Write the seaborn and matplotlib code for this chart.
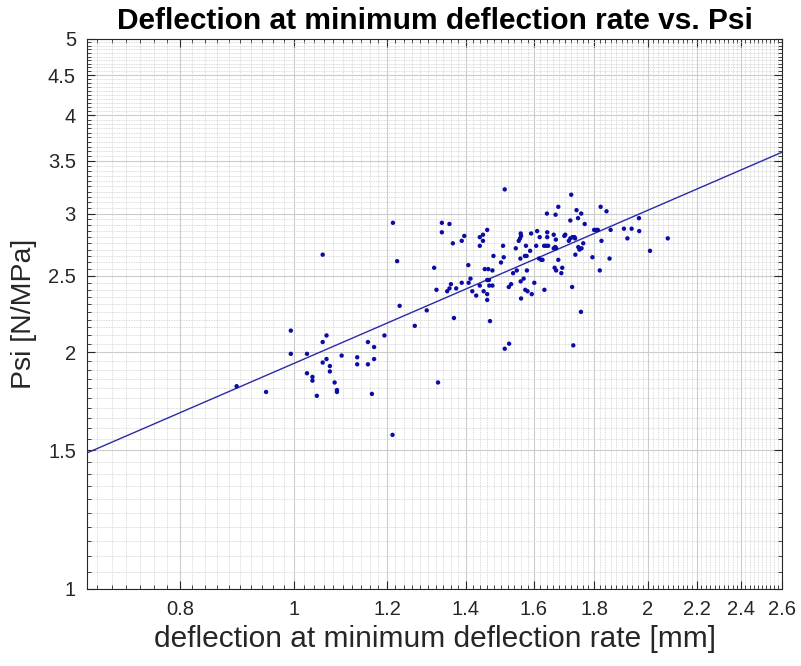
import numpy as np
import pandas as pd
import matplotlib
matplotlib.use("Agg")
import matplotlib.pyplot as plt
from matplotlib.ticker import FixedLocator, FixedFormatter, NullFormatter
import seaborn as sns

# ---- data ----
defl = [1.214, 1.336, 1.356, 1.336, 1.46, 1.448, 1.439, 1.448, 1.396, 1.389,
        1.365, 1.439, 1.058, 1.478, 1.224, 1.316, 1.407, 1.453, 1.463, 1.475,
        1.413, 1.46, 1.465, 1.36, 1.389, 1.408, 1.374, 1.439, 1.466, 1.475,
        1.322, 1.35, 1.356, 1.418, 1.429, 1.45, 1.46, 1.46, 1.23, 1.297,
        1.368, 1.468, 1.267, 0.994, 1.066, 1.194, 1.058, 1.156, 1.17, 0.994,
        1.026, 1.098, 1.132, 1.066, 1.17, 1.058, 1.073, 1.132, 1.156, 1.073,
        1.026, 1.037, 1.037, 1.083, 1.326, 1.088, 1.088, 0.894, 0.947, 1.046,
        1.165, 1.213,
        1.511, 1.721, 1.823, 1.844, 1.678, 1.641, 1.669, 1.739, 1.755, 1.744,
        1.718, 1.767, 1.965, 1.908, 1.937, 1.966, 1.859, 1.80, 1.807, 1.813,
        1.921, 1.826, 2.079, 2.008, 1.559, 1.56, 1.557, 1.553, 1.591, 1.61,
        1.618, 1.642, 1.642, 1.663, 1.67, 1.701, 1.698, 1.713, 1.718, 1.725,
        1.732, 1.734, 1.745, 1.749, 1.756, 1.762, 1.735, 1.794, 1.855, 1.82,
        1.506, 1.544, 1.575, 1.588, 1.607, 1.632, 1.638, 1.645, 1.663, 1.668,
        1.671, 1.577, 1.572, 1.558, 1.616, 1.623, 1.627, 1.678, 1.508, 1.50,
        1.547, 1.536, 1.578, 1.666, 1.671, 1.691, 1.688, 1.568, 1.53, 1.523,
        1.559, 1.601, 1.573, 1.58, 1.593, 1.56, 1.633, 1.724, 1.754, 1.511,
        1.524, 1.728]
psi = [2.92, 2.92, 2.91, 2.84, 2.86, 2.82, 2.80, 2.77, 2.81, 2.77,
       2.75, 2.73, 2.66, 2.65, 2.61, 2.56, 2.58, 2.55, 2.55, 2.54,
       2.48, 2.47, 2.47, 2.44, 2.45, 2.45, 2.41, 2.43, 2.43, 2.43,
       2.40, 2.39, 2.41, 2.39, 2.36, 2.39, 2.37, 2.33, 2.29, 2.26,
       2.21, 2.19, 2.16, 2.13, 2.10, 2.10, 2.06, 2.06, 2.03, 1.99,
       1.99, 1.98, 1.97, 1.96, 1.96, 1.94, 1.92, 1.93, 1.93, 1.89,
       1.88, 1.86, 1.84, 1.83, 1.83, 1.79, 1.78, 1.81, 1.78, 1.76,
       1.77, 1.57,
       3.22, 3.17, 3.06, 3.02, 3.06, 3.00, 2.99, 3.03, 3.00, 2.96,
       2.94, 2.91, 2.96, 2.87, 2.87, 2.85, 2.86, 2.86, 2.86, 2.86,
       2.79, 2.77, 2.79, 2.69, 2.83, 2.81, 2.79, 2.77, 2.83, 2.85,
       2.80, 2.84, 2.80, 2.82, 2.78, 2.82, 2.81, 2.77, 2.79, 2.80,
       2.80, 2.79, 2.72, 2.70, 2.71, 2.75, 2.66, 2.64, 2.63, 2.54,
       2.73, 2.71, 2.73, 2.69, 2.73, 2.73, 2.73, 2.73, 2.71, 2.72,
       2.71, 2.65, 2.65, 2.63, 2.63, 2.62, 2.62, 2.62, 2.64, 2.60,
       2.54, 2.52, 2.54, 2.56, 2.54, 2.56, 2.52, 2.48, 2.44, 2.42,
       2.46, 2.45, 2.40, 2.39, 2.37, 2.34, 2.40, 2.42, 2.25, 2.02,
       2.05, 2.04]

fit_x = [0.667, 2.6]
fit_y = [1.489, 3.59]

x_ticks = [0.8, 1.0, 1.2, 1.4, 1.6, 1.8, 2.0, 2.2, 2.4, 2.6]
x_labels = ["0.8", "1", "1.2", "1.4", "1.6", "1.8", "2", "2.2", "2.4", "2.6"]
y_ticks = [1.0, 1.5, 2.0, 2.5, 3.0, 3.5, 4.0, 4.5, 5.0]
y_labels = ["1", "1.5", "2", "2.5", "3", "3.5", "4", "4.5", "5"]

df = pd.DataFrame({"deflection": defl, "psi": psi})
fit = pd.DataFrame({"x": fit_x, "y": fit_y})

sns.set_theme(style="white")
plt.rcParams["font.family"] = ["Liberation Sans", "DejaVu Sans"]

fig = plt.figure(figsize=(8.01, 6.66), dpi=100)
ax = fig.add_axes([87 / 801, 1 - 589 / 666, (782 - 87) / 801, (589 - 39) / 666])

ax.set_xscale("log")
ax.set_yscale("log")
ax.set_xlim(0.667, 2.6)
ax.set_ylim(1.0, 5.0)

blue = "#0b0ba6"
sns.lineplot(data=fit, x="x", y="y", ax=ax, color="#2a2aa8", linewidth=1.0,
             sort=False, zorder=3)
sns.scatterplot(data=df, x="deflection", y="psi", ax=ax, color=blue, s=10,
                linewidth=0, edgecolor="none", zorder=4)

ax.xaxis.set_major_locator(FixedLocator(x_ticks))
ax.xaxis.set_major_formatter(FixedFormatter(x_labels))
ax.xaxis.set_minor_locator(FixedLocator(np.round(np.arange(0.66, 2.601, 0.02), 2)))
ax.xaxis.set_minor_formatter(NullFormatter())
ax.yaxis.set_major_locator(FixedLocator(y_ticks))
ax.yaxis.set_major_formatter(FixedFormatter(y_labels))
ax.yaxis.set_minor_locator(FixedLocator(np.round(np.arange(1.0, 5.001, 0.05), 2)))
ax.yaxis.set_minor_formatter(NullFormatter())

ax.grid(True, which="major", color="#cccccc", linewidth=0.8, linestyle="-")
ax.grid(True, which="minor", color="#d0d0d0", linewidth=0.6, linestyle=(0, (1, 1)))
ax.set_axisbelow(True)

ax.tick_params(which="both", direction="in", top=True, right=True,
               bottom=True, left=True, colors="#262626")
ax.tick_params(which="major", length=6, width=0.8, labelsize=14.5, pad=8)
ax.tick_params(which="minor", length=3, width=0.6)
for sp in ax.spines.values():
    sp.set_color("#262626")
    sp.set_linewidth(0.8)

ax.set_xlabel("deflection at minimum deflection rate [mm]", fontsize=21.5,
              color="#262626", labelpad=4)
ax.set_ylabel("Psi [N/MPa]", fontsize=20.5, color="#262626", labelpad=8)
ax.set_title("Deflection at minimum deflection rate vs. Psi", fontsize=21.5,
             fontweight="bold", color="black", pad=7)

fig.savefig("out.png", dpi=100)
